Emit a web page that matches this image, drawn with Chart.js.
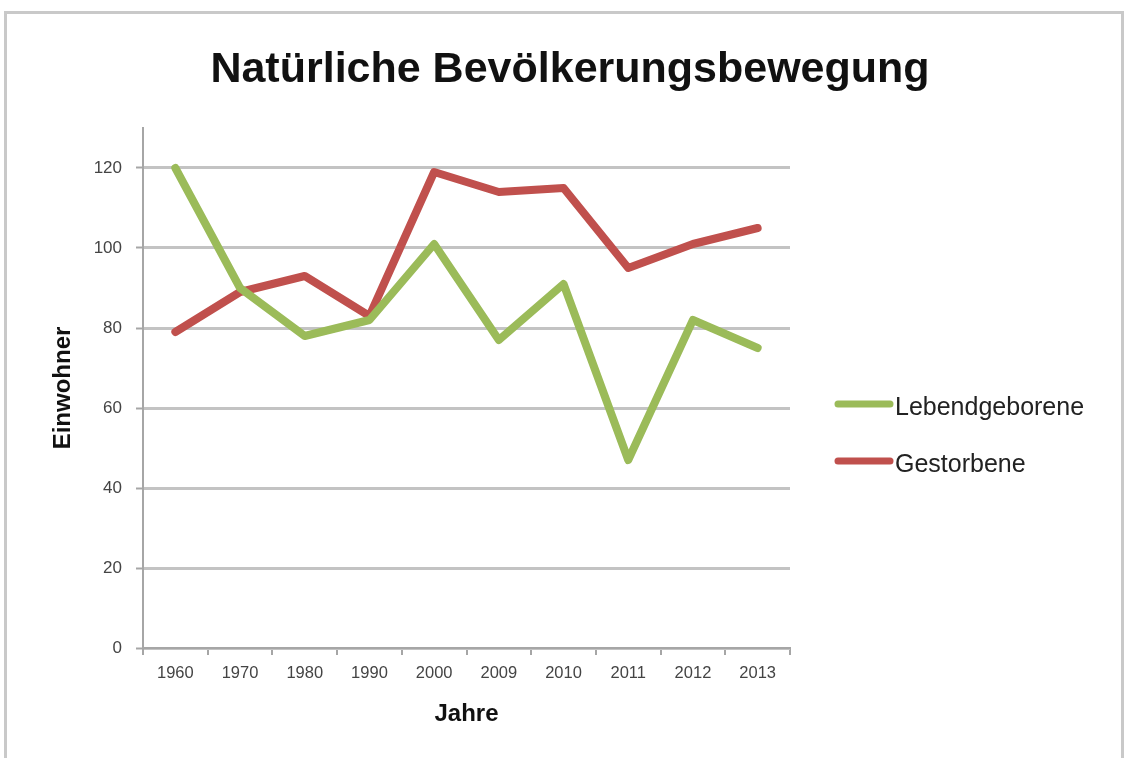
<!DOCTYPE html>
<html lang="de">
<head>
<meta charset="utf-8">
<title>Natürliche Bevölkerungsbewegung</title>
<script src="https://cdn.jsdelivr.net/npm/chart.js@4.4.1/dist/chart.umd.min.js"></script>
<style>
  html, body { margin: 0; padding: 0; background: #fff; }
  #wrap { width: 1128px; height: 758px; }
</style>
</head>
<body>
<div id="wrap"><canvas id="myChart" width="1128" height="758"></canvas></div>
<script>
var jahre = ['1960', '1970', '1980', '1990', '2000', '2009', '2010', '2011', '2012', '2013'];
var lebendgeborene = [120, 90, 78, 82, 101, 77, 91, 47, 82, 75];
var gestorbene = [79, 89, 93, 83, 119, 114, 115, 95, 101, 105];
var yTicks = [0, 20, 40, 60, 80, 100, 120];
var titel = 'Natürliche Bevölkerungsbewegung';

var FONT = "'Liberation Sans', Arial, Helvetica, sans-serif";

// grey frame around the whole chart, title centred over the full width
var framePlugin = {
  id: 'frame',
  beforeDraw: function(chart) {
    var c = chart.ctx;
    c.save();
    c.strokeStyle = '#c9c9c9';
    c.lineWidth = 3;
    c.strokeRect(5.5, 12.5, 1117, 770);
    c.fillStyle = '#111';
    c.font = 'bold 43px ' + FONT;
    c.textAlign = 'center';
    c.textBaseline = 'middle';
    c.fillText(titel, 570, 70);
    c.restore();
  }
};

// legend on the right: thick line sample + label
var sideLegend = {
  id: 'sideLegend',
  afterDraw: function(chart) {
    var c = chart.ctx;
    c.save();
    chart.data.datasets.forEach(function(ds, i) {
      var y = 404 + i * 57;
      c.strokeStyle = ds.borderColor;
      c.lineWidth = 7;
      c.lineCap = 'round';
      c.beginPath();
      c.moveTo(838, y);
      c.lineTo(890, y);
      c.stroke();
      c.fillStyle = '#222';
      c.font = '25px ' + FONT;
      c.textBaseline = 'middle';
      c.fillText(ds.label, 895, y + 4);
    });
    c.restore();
  }
};

const ctx = document.getElementById('myChart').getContext('2d');
let myChart = new Chart(ctx, {
  type: 'line',
  data: {
    labels: jahre,
    datasets: [{
      label: 'Lebendgeborene',
      data: lebendgeborene,
      borderColor: '#9bbb59',
      borderWidth: 8,
      borderJoinStyle: 'round',
      borderCapStyle: 'round',
      pointRadius: 0,
      tension: 0
    }, {
      label: 'Gestorbene',
      data: gestorbene,
      borderColor: '#c0504d',
      borderWidth: 8,
      borderJoinStyle: 'round',
      borderCapStyle: 'round',
      pointRadius: 0,
      tension: 0
    }]
  },
  options: {
    responsive: false,
    animation: false,
    layout: {
      padding: { left: 0, right: 338, top: 128, bottom: 0 }
    },
    scales: {
      x: {
        offset: true,
        afterFit: function(s) { s.height = 110; },
        grid: {
          offset: true,
          drawOnChartArea: false,
          drawTicks: true,
          tickLength: 7,
          color: '#a6a6a6',
          lineWidth: 2
        },
        border: { color: '#a6a6a6', width: 2 },
        ticks: {
          color: '#444',
          padding: 9,
          maxRotation: 0,
          font: { family: FONT, size: 16.5 }
        },
        title: {
          display: true,
          text: 'Jahre',
          color: '#111',
          padding: { top: 0, bottom: 29 },
          font: { family: FONT, size: 24, weight: 'bold' }
        }
      },
      y: {
        min: 0,
        max: 130,
        afterFit: function(s) { s.width = 143; },
        afterBuildTicks: function(s) {
          s.ticks = yTicks.map(function(v) { return { value: v }; });
        },
        grid: {
          color: '#c3c3c3',
          lineWidth: 3,
          tickLength: 7,
          tickColor: '#a6a6a6',
          tickWidth: 2
        },
        border: { color: '#a6a6a6', width: 2 },
        ticks: {
          color: '#444',
          padding: 14,
          font: { family: FONT, size: 17 }
        },
        title: {
          display: true,
          text: 'Einwohner',
          color: '#111',
          padding: { top: 49, bottom: 0 },
          font: { family: FONT, size: 24, weight: 'bold' }
        }
      }
    },
    plugins: {
      legend: { display: false },
      tooltip: { enabled: false },
      title: { display: false }
    }
  },
  plugins: [framePlugin, sideLegend]
});
</script>
</body>
</html>
